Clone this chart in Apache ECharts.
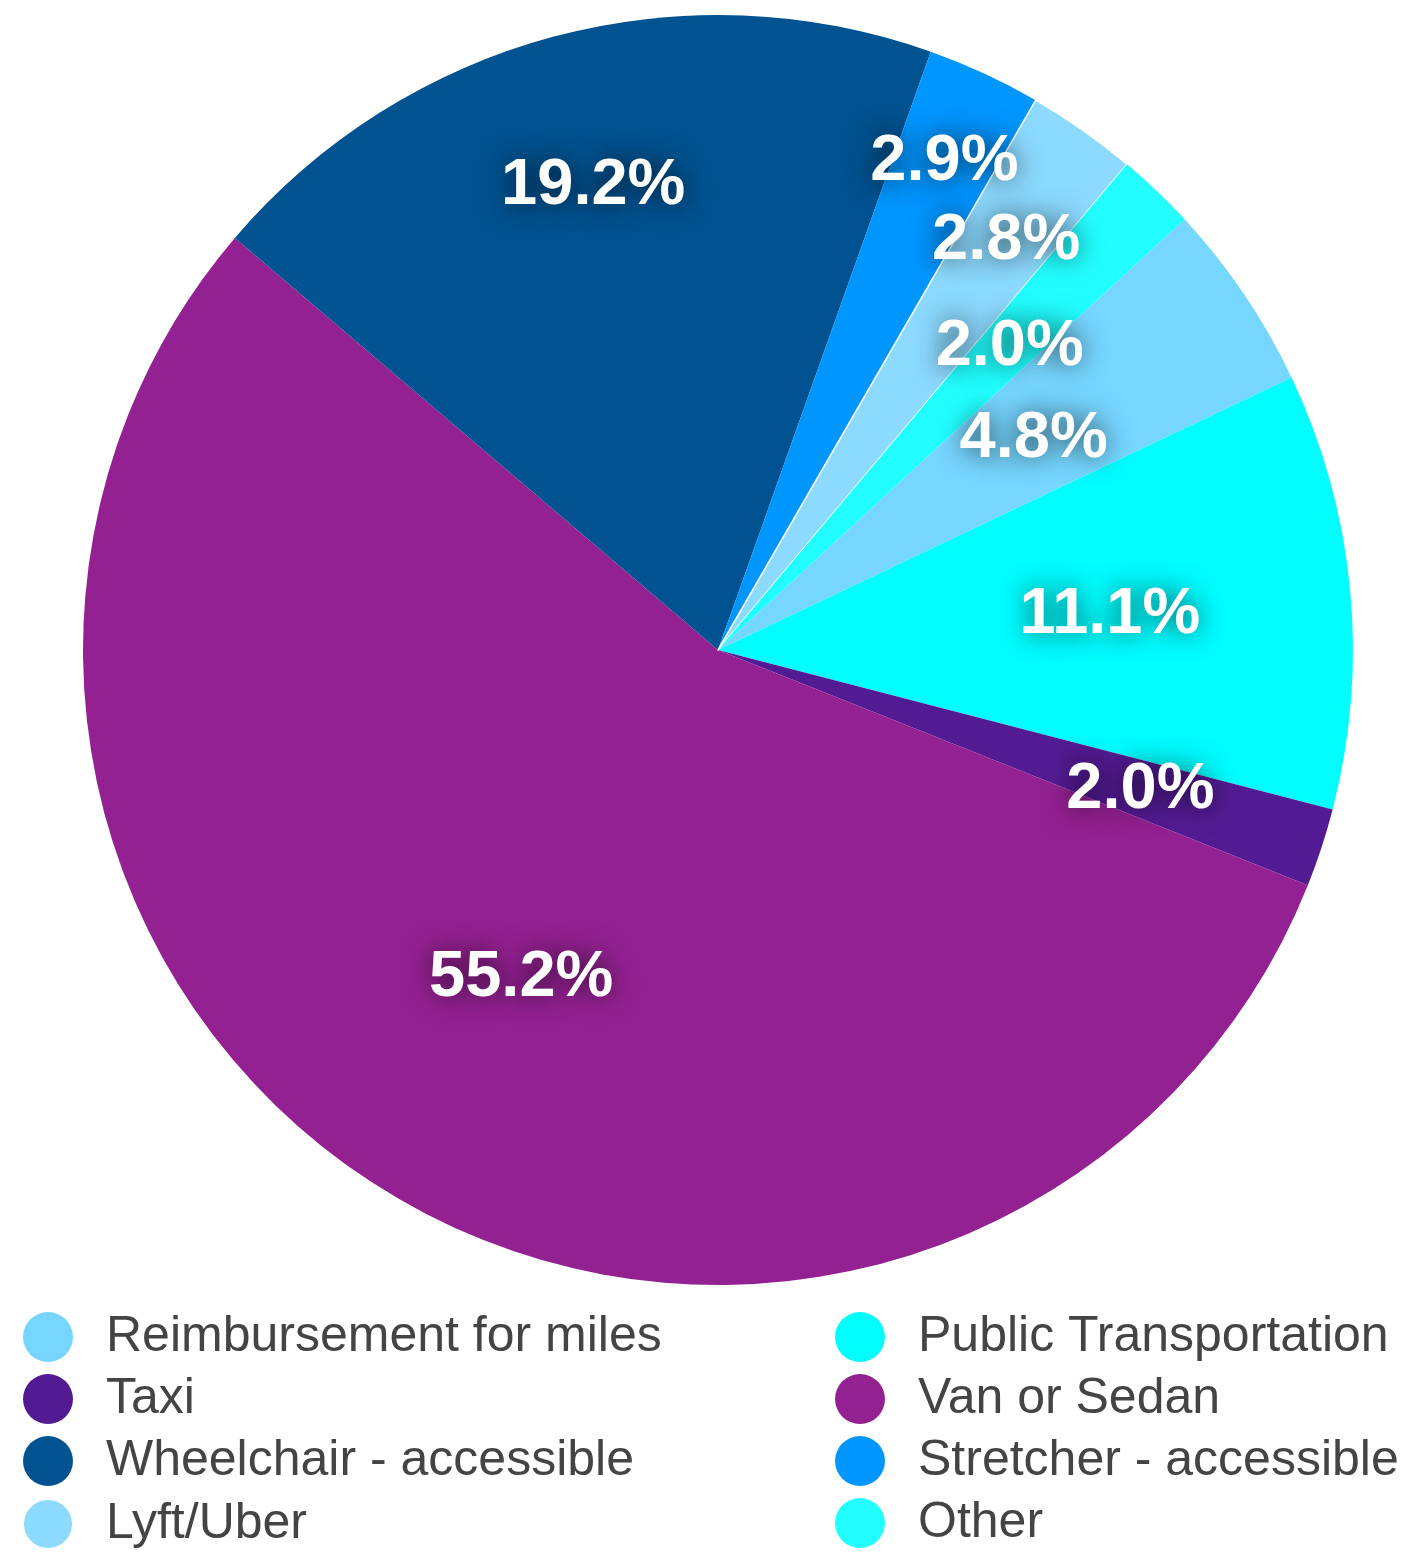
<!DOCTYPE html>
<html>
<head>
<meta charset="utf-8">
<title>Transportation types</title>
<script src="https://cdn.jsdelivr.net/npm/echarts@6/dist/echarts.min.js"></script>
<style>
  html, body { margin: 0; padding: 0; background: #ffffff; }
  #chart { width: 1419px; height: 1553px; }
</style>
</head>
<body>
<div id="chart"></div>
<script>
// Share of rides by transportation type (percent)
const categories = [
  'Reimbursement for miles',
  'Public Transportation',
  'Taxi',
  'Van or Sedan',
  'Wheelchair - accessible',
  'Stretcher - accessible',
  'Lyft/Uber',
  'Other'
];
const shares = [4.8, 11.1, 2.0, 55.2, 19.2, 2.9, 2.8, 2.0];
const colors = ['#76d6ff', '#00fdff', '#531b93', '#942192', '#005290', '#0096ff', '#8cdaff', '#22feff'];

// Legend columns (row-major reading order)
const legendLeft = ['Reimbursement for miles', 'Taxi', 'Wheelchair - accessible', 'Lyft/Uber'];
const legendRight = ['Public Transportation', 'Van or Sedan', 'Stretcher - accessible', 'Other'];

// How far out along each slice its percentage label sits (fraction of radius)
const labelDepth = [0.60, 0.62, 0.70, 0.60, 0.76, 0.85, 0.79, 0.665];

const CX = 718, CY = 650, R = 635, START = 42.7;
const total = shares.reduce((a, b) => a + b, 0);

function midAngle(i) {
  let before = 0;
  for (let k = 0; k < i; k++) before += shares[k];
  return (START - (before + shares[i] / 2) / total * 360) * Math.PI / 180;
}

const chart = echarts.init(document.getElementById('chart'), null, { renderer: 'canvas' });

const legendText = {
  color: '#444444',
  fontFamily: 'Liberation Sans, Arial, sans-serif',
  fontSize: 50,
  lineHeight: 50,
  padding: [0, 0, 0, 28]
};

function makeLegend(names, left) {
  return {
    data: names,
    orient: 'vertical',
    left: left,
    top: 1312,
    padding: 0,
    icon: 'circle',
    itemWidth: 50,
    itemHeight: 50,
    itemGap: 12,
    selectedMode: false,
    textStyle: legendText
  };
}

chart.setOption({
  animation: false,
  color: colors,
  legend: [makeLegend(legendLeft, 22), makeLegend(legendRight, 835)],
  series: [{
    type: 'pie',
    center: [CX, CY],
    radius: R,
    startAngle: START,
    clockwise: true,
    avoidLabelOverlap: false,
    selectedMode: false,
    itemStyle: { borderWidth: 0 },
    emphasis: { disabled: true },
    labelLine: { show: false },
    label: {
      show: true,
      position: 'inside',
      color: '#ffffff',
      fontFamily: 'Liberation Sans, Arial, sans-serif',
      fontWeight: 'bold',
      fontSize: 65,
      textShadowColor: 'rgba(0, 0, 0, 0.7)',
      textShadowBlur: 26,
      formatter: p => p.value.toFixed(1) + '%'
    },
    labelLayout: function (p) {
      const a = midAngle(p.dataIndex);
      const d = labelDepth[p.dataIndex] * R;
      return {
        x: CX + d * Math.cos(a),
        y: CY - d * Math.sin(a) + 2,
        align: 'center',
        verticalAlign: 'middle'
      };
    },
    data: categories.map((name, i) => ({
      name: name,
      value: shares[i],
      itemStyle: name === 'Lyft/Uber' ? { borderColor: '#ffffff', borderWidth: 1.5 } : undefined
    }))
  }]
});
</script>
</body>
</html>
